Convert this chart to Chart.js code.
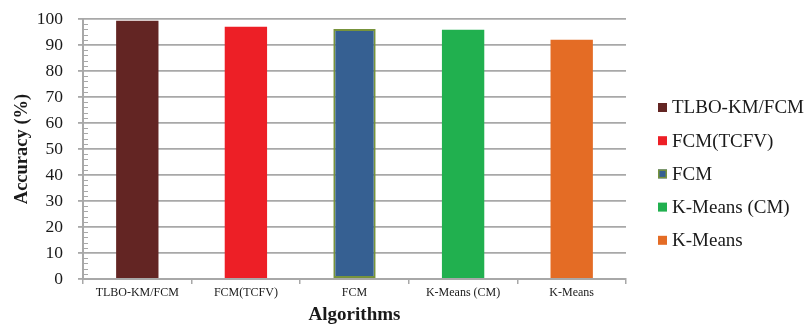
<!DOCTYPE html>
<html>
<head>
<meta charset="utf-8">
<script src="https://cdn.jsdelivr.net/npm/chart.js@4/dist/chart.umd.min.js"></script>
<style>
  html, body { margin: 0; padding: 0; background: #fff; }
  #wrap { width: 811px; height: 326px; position: relative; }
</style>
</head>
<body>
<div id="wrap"><canvas id="c"></canvas></div>
<script>
// Accuracy of each clustering algorithm
const algorithms = ['TLBO-KM/FCM', 'FCM(TCFV)', 'FCM', 'K-Means (CM)', 'K-Means'];
const accuracy = [99.3, 97.0, 96.2, 95.9, 92.0];
const barColors = ['#632523', '#ED1F26', '#366092', '#21B04F', '#E46C25'];
const barBorders = ['#632523', '#ED1F26', '#77933C', '#21B04F', '#E46C25'];
const borderWidths = [0, 0, 2, 0, 0];
const yTicks = [0, 10, 20, 30, 40, 50, 60, 70, 80, 90, 100];

const SERIF = '"Liberation Serif", "Times New Roman", serif';
const GRID = '#a8a8a8';

// Small inner ticks every 2 units along the value axis
const minorTicks = {
  id: 'minorTicks',
  afterDraw(chart) {
    const { ctx, scales: { y }, chartArea } = chart;
    ctx.save();
    ctx.strokeStyle = GRID;
    ctx.lineWidth = 1;
    for (let v = 0; v <= 100; v += 2) {
      if (v % 10 === 0) continue;
      const py = Math.round(y.getPixelForValue(v)) + 0.5;
      ctx.beginPath();
      ctx.moveTo(chartArea.left, py);
      ctx.lineTo(chartArea.left + 5, py);
      ctx.stroke();
    }
    ctx.restore();
  }
};

// Legend listing every algorithm with its bar colour
const sideLegend = {
  id: 'sideLegend',
  afterDraw(chart) {
    const { ctx } = chart;
    ctx.save();
    ctx.font = '19px ' + SERIF;
    ctx.textBaseline = 'middle';
    const x0 = 658, y0 = 107.5, step = 33.2, box = 9;
    algorithms.forEach((name, i) => {
      const cy = y0 + i * step;
      ctx.fillStyle = barColors[i];
      ctx.fillRect(x0, cy - box / 2, box, box);
      if (borderWidths[i]) {
        ctx.strokeStyle = barBorders[i];
        ctx.lineWidth = 1.5;
        ctx.strokeRect(x0 + 0.75, cy - box / 2 + 0.75, box - 1.5, box - 1.5);
      }
      ctx.fillStyle = '#1a1a1a';
      ctx.fillText(name, x0 + 14, cy + 1);
    });
    ctx.restore();
  }
};

new Chart(document.getElementById('c'), {
  type: 'bar',
  data: {
    labels: algorithms,
    datasets: [{
      label: 'Accuracy (%)',
      data: accuracy,
      backgroundColor: barColors,
      borderColor: barBorders,
      borderWidth: borderWidths,
      borderSkipped: false,
      categoryPercentage: 1.0,
      barPercentage: 0.39
    }]
  },
  options: {
    responsive: true,
    maintainAspectRatio: false,
    animation: false,
    layout: { padding: { left: 11, right: 185, top: 19, bottom: 0 } },
    plugins: {
      legend: { display: false },
      tooltip: { enabled: false }
    },
    scales: {
      x: {
        offset: true,
        afterFit(scale) { scale.height = 47; },
        grid: {
          display: true,
          offset: true,
          drawOnChartArea: false,
          drawTicks: true,
          tickLength: 5,
          color: GRID,
          lineWidth: 1.5
        },
        border: { color: GRID, width: 2 },
        ticks: {
          font: { family: SERIF, size: 12 },
          color: '#1a1a1a',
          maxRotation: 0,
          autoSkip: false,
          padding: 2
        },
        title: {
          display: true,
          text: 'Algorithms',
          font: { family: SERIF, size: 19, weight: 'bold' },
          color: '#1a1a1a',
          padding: { top: 3, bottom: 0 }
        }
      },
      y: {
        min: 0,
        max: 100,
        afterBuildTicks(scale) { scale.ticks = yTicks.map(v => ({ value: v })); },
        afterFit(scale) {
          scale.width = 72;
          scale.paddingTop = 0;
          scale.paddingBottom = 0;
        },
        grid: {
          color: GRID,
          lineWidth: 1.8,
          tickLength: 5,
          drawTicks: true
        },
        border: { color: GRID, width: 2 },
        ticks: {
          font: { family: SERIF, size: 17.5 },
          color: '#1a1a1a',
          padding: 15
        },
        title: {
          display: true,
          text: 'Accuracy (%)',
          font: { family: SERIF, size: 18.5, weight: 'bold' },
          color: '#1a1a1a',
          padding: { top: 0, bottom: 3 }
        }
      }
    }
  },
  plugins: [minorTicks, sideLegend]
});
</script>
</body>
</html>
